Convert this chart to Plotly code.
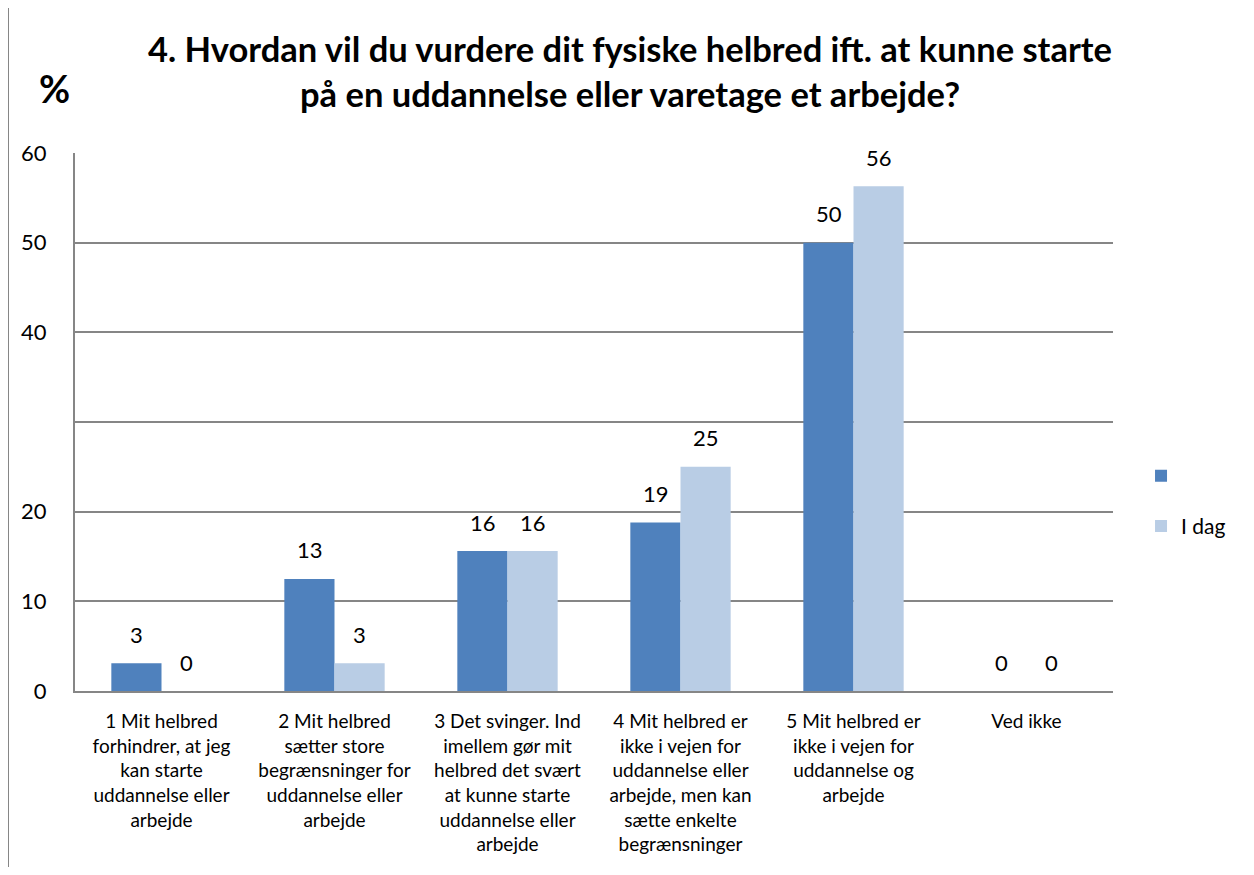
import plotly.graph_objects as go

categories = [
    "1 Mit helbred<br>forhindrer, at jeg<br>kan starte<br>uddannelse eller<br>arbejde",
    "2 Mit helbred<br>sætter store<br>begrænsninger for<br>uddannelse eller<br>arbejde",
    "3 Det svinger. Ind<br>imellem gør mit<br>helbred det svært<br>at kunne starte<br>uddannelse eller<br>arbejde",
    "4 Mit helbred er<br>ikke i vejen for<br>uddannelse eller<br>arbejde, men kan<br>sætte enkelte<br>begrænsninger",
    "5 Mit helbred er<br>ikke i vejen for<br>uddannelse og<br>arbejde",
    "Ved ikke",
]
before_vals = [3.1, 12.5, 15.6, 18.8, 50.0, 0]
today_vals = [0, 3.1, 15.6, 25.0, 56.3, 0]
series_names = [" ", "I dag"]
tick_vals = [0, 10, 20, 30, 40, 50, 60]
tick_text = ["0", "10", "20", "", "40", "50", "60"]

FONT = "Lato"
grid = "#868686"

# page has an 8px body margin, so the figure is a bit smaller than the window
W, H = 1238, 859

fig = go.Figure()
for name, vals, col, grp, shift in [(series_names[0], before_vals, "#4F81BD", "a", -25),
                                    (series_names[1], today_vals, "#B9CDE5", "b", 25)]:
    fig.add_trace(go.Bar(
        x=categories, y=vals, name=name, marker=dict(color=col, line=dict(width=0)),
        legendgroup=grp, showlegend=True, hoverinfo="skip"))
    for c, v in zip(categories, vals):
        fig.add_annotation(x=c, y=v, text=f"{v:.0f}" if v != 12.5 else "13",
                           showarrow=False, xshift=shift, yshift=29,
                           xanchor="center", yanchor="middle",
                           font=dict(size=22, family=FONT, color="#000000"))

fig.update_layout(
    width=W, height=H,
    paper_bgcolor="white", plot_bgcolor="white",
    margin=dict(l=67, r=133, t=145, b=174),
    barmode="group", bargap=0.42, bargroupgap=0,
    font=dict(family=FONT, color="#000000"),
    title=dict(
        text="4. Hvordan vil du vurdere dit fysiske helbred ift. at kunne starte<br>på en uddannelse eller varetage et arbejde?",
        x=622 / W, xanchor="center", y=1 - 54 / H, yanchor="top",
        font=dict(size=34.5, family=FONT, color="#000000", weight="bold")),
    legend=dict(x=1.027, y=0.353, xanchor="left", yanchor="middle",
                font=dict(size=21, family=FONT), traceorder="grouped",
                tracegroupgap=20, itemwidth=30),
    showlegend=True,
)
fig.update_xaxes(showline=True, linecolor=grid, linewidth=2, ticks="",
                 ticklabelstandoff=12,
                 tickfont=dict(size=19, family=FONT))
fig.update_yaxes(range=[0, 60], tickvals=tick_vals, ticktext=tick_text,
                 showgrid=True, gridcolor=grid, gridwidth=1.5,
                 showline=True, linecolor=grid, linewidth=2, ticks="",
                 ticklabelstandoff=22,
                 tickfont=dict(size=22, family=FONT), zeroline=False)

fig.add_annotation(text="<b>%</b>", xref="paper", yref="paper",
                   x=(54 - 75) / 1038, y=(693 - 88) / 540, showarrow=False,
                   xanchor="center", yanchor="middle",
                   font=dict(size=38, family=FONT))
fig.add_shape(type="line", xref="paper", yref="paper",
              x0=(8 - 75) / 1038, x1=(8 - 75) / 1038,
              y0=(693 - 875) / 540, y1=693 / 540,
              line=dict(color=grid, width=2))

fig.write_html("out.html")
